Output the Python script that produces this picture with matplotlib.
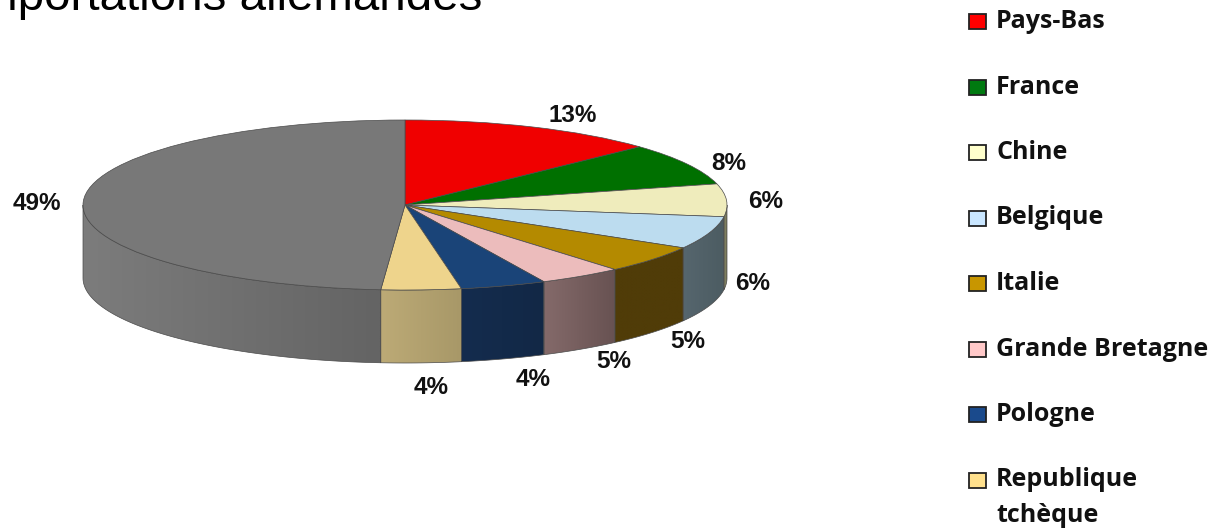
"""
Importations allemandes - fake 3D pie
"""
import matplotlib
matplotlib.use('Agg')
import matplotlib.pyplot as plt
import numpy as np
from matplotlib.colors import to_rgb
from matplotlib.patches import Polygon, Rectangle

# data, slice sizes (the printed labels are rounded)
categories = ['Pays-Bas', 'France', 'Chine', 'Belgique', 'Italie',
              'Grande Bretagne', 'Pologne', 'Republique\ntchèque', 'Autres']
values = [13.0, 8.0, 6.2, 6.2, 5.3, 4.2, 4.3, 4.0, 48.8]
value_labels = ['13%', '8%', '6%', '6%', '5%', '5%', '4%', '4%', '49%']

# styles
top_colors = ['#f00000', '#007000', '#efecbc', '#bcdcef', '#b48a00',
              '#ecbcbc', '#1a4478', '#eed48c', '#787878']
side_left = ['#a00000', '#004a00', '#8a8a68', '#56666e', '#503c08',
             '#846a6a', '#142c4e', '#bcaa76', '#7c7c7c']
side_right = ['#a00000', '#004a00', '#6a6a50', '#4c5c62', '#503c08',
              '#685252', '#122846', '#a89868', '#646464']
swatch_colors = ['#ff0000', '#007a10', '#ffffcc', '#c9e6ff', '#c89600',
                 '#ffc8c8', '#1a4a8c', '#ffe08c']
label_x = [573, 729, 766, 753, 688, 614, 533, 431, 37]
label_y = [116, 164, 202, 283, 341, 362, 380, 387, 203]

W, H = 1211, 529
CX, CY, RX, RY, DEPTH = 405, 205, 322, 85, 73

fig = plt.figure(figsize=(W / 100, H / 100), dpi=100, facecolor='white')

# pie axes: one data unit = the ellipse radius
ax = fig.add_axes([0, 0, 1, 1])
ax.pie(values, colors=top_colors, startangle=90, counterclock=False, radius=1,
       wedgeprops=dict(edgecolor='#4a4a4a', linewidth=0.5, zorder=5))
xlim = ((0 - CX) / RX, (W - CX) / RX)
ylim = ((CY - H) / RY, CY / RY)
d = DEPTH / RY

# side walls, only the part of each slice facing front
fracs = np.cumsum([0] + values) / sum(values) * 2 * np.pi
for i in range(len(values)):
    a0, a1 = fracs[i], fracs[i + 1]
    a0 = max(a0, np.pi / 2)
    a1 = min(a1, 3 * np.pi / 2)
    if a1 <= a0:
        continue
    t = np.linspace(a0, a1, 80)
    xs, ys = np.sin(t), np.cos(t)
    pts = np.vstack([np.column_stack([xs, ys]),
                     np.column_stack([xs[::-1], ys[::-1] - d])])
    poly = Polygon(pts, closed=True, facecolor='none', edgecolor='#4a4a4a',
                   linewidth=0.5, zorder=4)
    ax.add_patch(poly)
    c0 = np.array(to_rgb(side_left[i]))
    c1 = np.array(to_rgb(side_right[i]))
    ramp = np.linspace(0, 1, 64)[None, :, None]
    img = c0[None, None, :] * (1 - ramp) + c1[None, None, :] * ramp
    # the ramp runs left to right on x
    im = ax.imshow(img, extent=(xs.min(), xs.max(), ys.min() - d, ys.max()),
                   aspect='auto', zorder=3, interpolation='bilinear')
    im.set_clip_path(poly)

ax.set_xlim(xlim)
ax.set_ylim(ylim)
ax.set_aspect('auto')
ax.axis('off')

# overlay in pixel coordinates for the texts and the legend
ov = fig.add_axes([0, 0, 1, 1], facecolor='none')
ov.set_xlim(0, W)
ov.set_ylim(H, 0)
ov.axis('off')

ov.text(482, 10.5, 'Importations allemandes', ha='right', va='baseline',
        fontsize=34.2, family='Liberation Sans', color='black')

for lab, x, y in zip(value_labels, label_x, label_y):
    ov.text(x, y, lab, ha='center', va='center', fontsize=17.5,
            fontweight='bold', family='Liberation Sans', color='#111111')

# legend
y0, step = 21.5, 65.5
for i, (name, col) in enumerate(zip(categories[:8], swatch_colors)):
    y = y0 + i * step
    ov.add_patch(Rectangle((968.5, y - 7.5), 17, 15, facecolor=col,
                           edgecolor='#222222', linewidth=1.3))
    for k, line in enumerate(name.split('\n')):
        ov.text(996, y + k * 36, line, ha='left', va='center', fontsize=18,
                family='Open Sans', fontweight='bold', color='#111111')

fig.savefig('out.png', dpi=100, facecolor='white')
